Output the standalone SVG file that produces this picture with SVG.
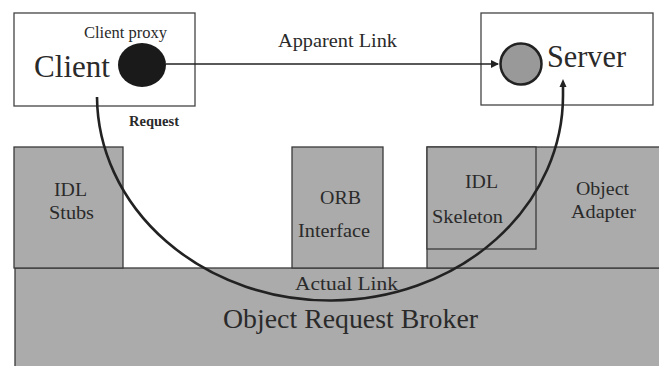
<svg xmlns="http://www.w3.org/2000/svg" width="659" height="366" viewBox="0 0 659 366">
<style>
.box{fill:#fff;stroke:#444;stroke-width:1.3}
.gray{fill:#ababab;stroke:#3a3a3a;stroke-width:1.3}
.conn{fill:none;stroke:#222}
</style>
<defs>
<marker id="arr" markerWidth="8" markerHeight="8" refX="7" refY="4" orient="auto" markerUnits="userSpaceOnUse">
<path d="M0,0 L8,4 L0,8 z" fill="#222"/>
</marker>
</defs>
<rect width="659" height="366" fill="#fff"/>
<g font-family="'Liberation Serif','Times New Roman',serif" fill="#2a2a2a" lengthAdjust="spacingAndGlyphs">
<g id="orb">
<rect class="gray" x="15" y="268" width="650" height="110"/>
<text x="223" y="328" font-size="27" textLength="255" lengthAdjust="spacingAndGlyphs">Object Request Broker</text>
<text x="295" y="290" font-size="19" textLength="103" lengthAdjust="spacingAndGlyphs">Actual Link</text>
</g>
<g id="idl-stubs">
<rect class="gray" x="14" y="147" width="109" height="121"/>
<text x="54" y="196" font-size="19" textLength="33" lengthAdjust="spacingAndGlyphs">IDL</text>
<text x="49" y="219" font-size="19" textLength="45" lengthAdjust="spacingAndGlyphs">Stubs</text>
</g>
<g id="orb-interface">
<rect class="gray" x="292" y="147" width="91" height="121"/>
<text x="320" y="204" font-size="19" textLength="41" lengthAdjust="spacingAndGlyphs">ORB</text>
<text x="298" y="237" font-size="19" textLength="72" lengthAdjust="spacingAndGlyphs">Interface</text>
</g>
<g id="object-adapter">
<rect class="gray" x="427" y="147" width="240" height="121"/>
<text x="576" y="195" font-size="19" textLength="53" lengthAdjust="spacingAndGlyphs">Object</text>
<text x="571" y="218" font-size="19" textLength="65" lengthAdjust="spacingAndGlyphs">Adapter</text>
</g>
<g id="idl-skeleton">
<rect class="gray" x="427" y="147" width="109" height="102"/>
<text x="465" y="188" font-size="19" textLength="33" lengthAdjust="spacingAndGlyphs">IDL</text>
<text x="432" y="223" font-size="19" textLength="71" lengthAdjust="spacingAndGlyphs">Skeleton</text>
</g>
<g id="client">
<rect class="box" x="14" y="13" width="181" height="93"/>
<text x="34" y="77" font-size="32" textLength="76" lengthAdjust="spacingAndGlyphs">Client</text>
<text x="84" y="38" font-size="16.5" textLength="83" lengthAdjust="spacingAndGlyphs">Client proxy</text>
<ellipse cx="142" cy="65" rx="24" ry="22" fill="#1a1a1a"/>
</g>
<g id="server">
<rect class="box" x="481" y="13" width="172" height="92"/>
<circle cx="521" cy="64" r="20.5" fill="#999" stroke="#222" stroke-width="2.5"/>
<text x="547" y="67" font-size="31" textLength="79" lengthAdjust="spacingAndGlyphs">Server</text>
</g>
<g id="connectors">
<line class="conn" x1="166" y1="64" x2="498" y2="64" stroke-width="1.3" marker-end="url(#arr)"/>
<text x="278" y="47" font-size="19.5" textLength="119" lengthAdjust="spacingAndGlyphs">Apparent Link</text>
<path class="conn" d="M97,97 A233,205 0 0 0 563,94 L563,86" stroke-width="2.6"/>
<path d="M563,79 L566.5,87 L559.5,87 z" fill="#222"/>
<text x="129" y="126" font-size="14" font-weight="bold" textLength="50" lengthAdjust="spacingAndGlyphs">Request</text>
</g>
</g>
</svg>
